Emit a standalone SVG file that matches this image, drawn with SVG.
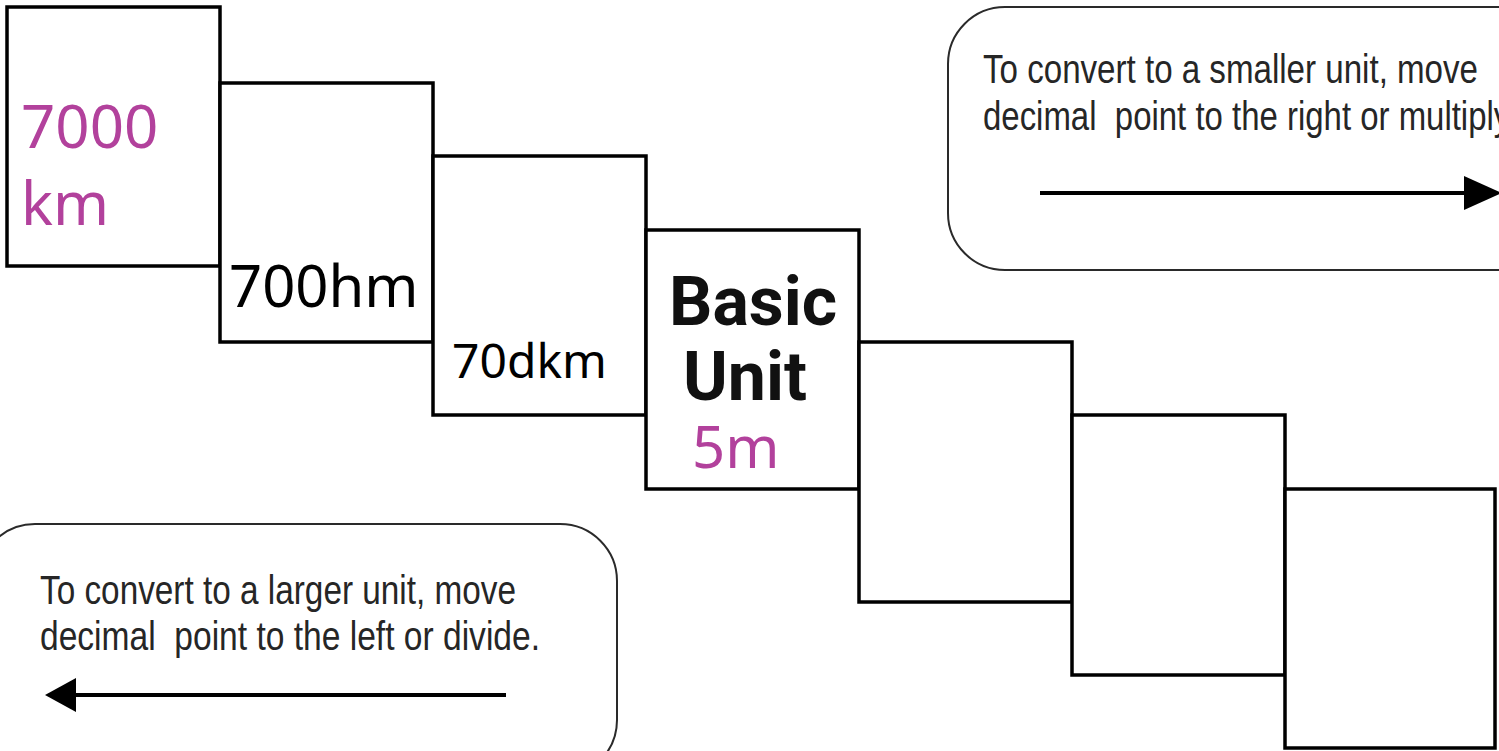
<svg xmlns="http://www.w3.org/2000/svg" width="1499" height="751" viewBox="0 0 1499 751">
<style>
.box{fill:#fff;stroke:#000;stroke-width:3.5}
.call{fill:#fff;stroke:#2a2a2a;stroke-width:2}
.num{font-family:"Noto Sans","Open Sans",sans-serif}
.pur{fill:#b2419c}
.blk{fill:#000}
.bold{font-family:Roboto,"Liberation Sans",sans-serif;font-weight:bold;font-size:68px;fill:#111}
.note{font-family:"Liberation Sans",Arial,sans-serif;font-size:40px;fill:#262626;white-space:pre}
.arr{stroke:#000;stroke-width:4;fill:none}
</style>
<rect width="1499" height="751" fill="#fff"/>
<g id="callout-smaller">
<rect class="call" x="948" y="7" width="640" height="263" rx="57" ry="57"/>
<text class="note" x="983" y="83" textLength="495" lengthAdjust="spacingAndGlyphs">To convert to a smaller unit, move</text>
<text class="note" x="983" y="130" textLength="534" lengthAdjust="spacingAndGlyphs" xml:space="preserve">decimal  point to the right or multiply.</text>
</g>
<g id="callout-larger">
<rect class="call" x="-22" y="524" width="639" height="253" rx="57" ry="57"/>
<text class="note" x="40" y="604" textLength="476" lengthAdjust="spacingAndGlyphs">To convert to a larger unit, move</text>
<text class="note" x="40" y="650" textLength="500" lengthAdjust="spacingAndGlyphs" xml:space="preserve">decimal  point to the left or divide.</text>
</g>
<g id="connectors">
<line class="arr" x1="1040" y1="193" x2="1468" y2="193"/>
<polygon points="1464,176 1502,193 1464,210" fill="#000"/>
<line class="arr" x1="506" y1="695" x2="72" y2="695"/>
<polygon points="76,678 45,695 76,712" fill="#000"/>
</g>
<g id="box-km">
<rect class="box" x="7" y="7" width="213" height="259"/>
<text class="num pur" x="21" y="148" font-size="60">7000</text>
<text class="num pur" x="21" y="225" font-size="60">km</text>
</g>
<g id="box-hm">
<rect class="box" x="220" y="83" width="213" height="259"/>
<text class="num blk" x="229" y="307" font-size="58">700hm</text>
</g>
<g id="box-dkm">
<rect class="box" x="433" y="156" width="213" height="259"/>
<text class="num blk" x="452" y="378" font-size="48">70dkm</text>
</g>
<g id="box-basic">
<rect class="box" x="646" y="230" width="213" height="259"/>
<text class="bold" x="669" y="325">Basic</text>
<text class="bold" x="683" y="400">Unit</text>
<text class="num pur" x="692" y="468" font-size="58">5m</text>
</g>
<g id="box-5">
<rect class="box" x="859" y="342" width="213" height="260"/>
</g>
<g id="box-6">
<rect class="box" x="1072" y="415" width="213" height="260"/>
</g>
<g id="box-7">
<rect class="box" x="1285" y="489" width="210" height="259"/>
</g>
</svg>
